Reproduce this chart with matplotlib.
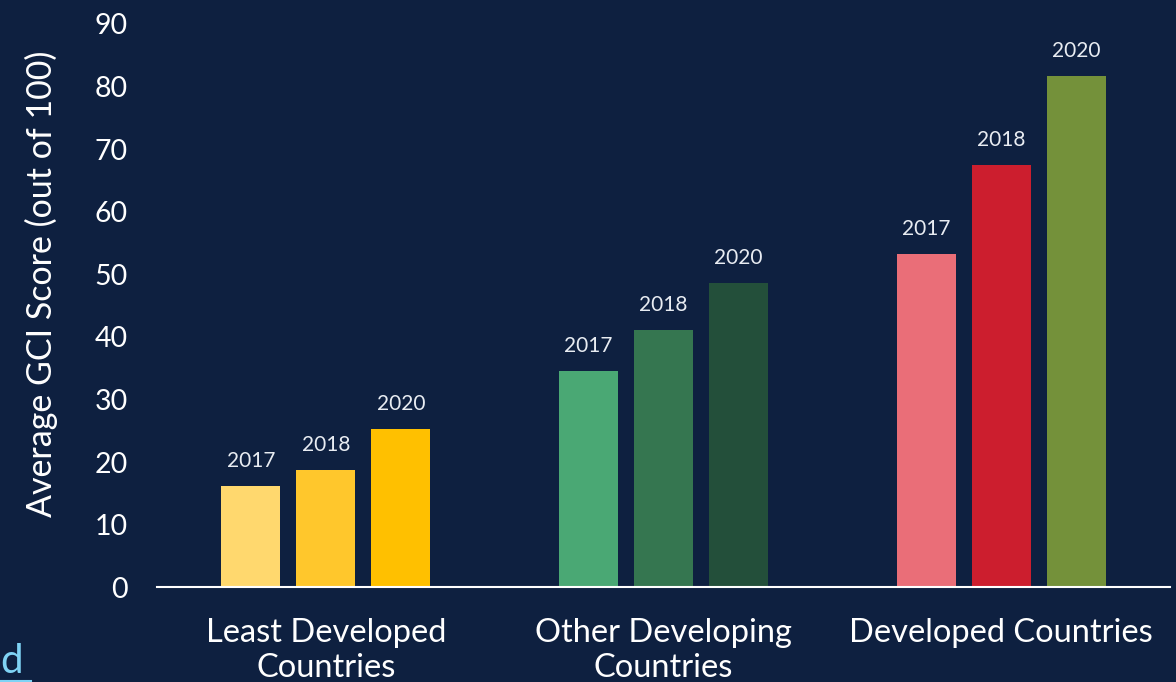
import matplotlib
matplotlib.use("Agg")
import matplotlib.pyplot as plt
import numpy as np

categories = ["Least Developed\nCountries", "Other Developing\nCountries", "Developed Countries"]
years = ["2017", "2018", "2020"]
values = [
    [16.1, 18.7, 25.3],
    [34.5, 41.1, 48.6],
    [53.2, 67.5, 81.7],
]
colors = [
    ["#FFD86E", "#FFC72C", "#FFC000"],
    ["#4AA874", "#357650", "#234F3A"],
    ["#EA6E78", "#CC1E2E", "#74913A"],
]
yticks = [0, 10, 20, 30, 40, 50, 60, 70, 80, 90]

bg = "#0E2040"
plt.rcParams['font.family'] = ['Lato', 'DejaVu Sans']

fig = plt.figure(figsize=(11.76, 6.82), dpi=100, facecolor=bg)
ax = fig.add_axes([0.1335, 0.139, 0.8615, 0.826])
ax.set_facecolor(bg)

width = 0.175
offset = 0.222
x = np.arange(len(categories))
for i, cat in enumerate(categories):
    for j, yr in enumerate(years):
        xpos = x[i] + (j - 1) * offset
        ax.bar(xpos, values[i][j], width=width, color=colors[i][j], zorder=2)
        ax.text(xpos, values[i][j] + 2.4, yr, ha="center", va="bottom",
                color="#E8ECF2", fontsize=15)

ax.set_xlim(-0.5, 2.5)
ax.set_ylim(0, 90)
ax.set_yticks(yticks)
ax.set_yticklabels([str(t) for t in yticks])
ax.set_xticks(x)
ax.set_xticklabels(categories, linespacing=1.22)
ax.tick_params(axis="y", length=0, pad=21, colors="white", labelsize=20.5)
ax.tick_params(axis="x", length=0, pad=22, colors="white", labelsize=23.5)

for s in ["top", "right", "left"]:
    ax.spines[s].set_visible(False)
ax.spines["bottom"].set_color("white")
ax.spines["bottom"].set_linewidth(1.5)

ax.set_ylabel("Average GCI Score (out of 100)", color="white", fontsize=24.5)
ax.yaxis.set_label_coords(-0.098, 0.538)

fig.text(0.0, 0.003, "d", color="#7FD3F5", fontsize=29, ha="left", va="bottom")
fig.add_artist(plt.Line2D([0.0, 0.026], [0.001, 0.001], color="#7FD3F5", lw=1.5,
                          transform=fig.transFigure))

fig.savefig("out.png", dpi=100, facecolor=bg)
